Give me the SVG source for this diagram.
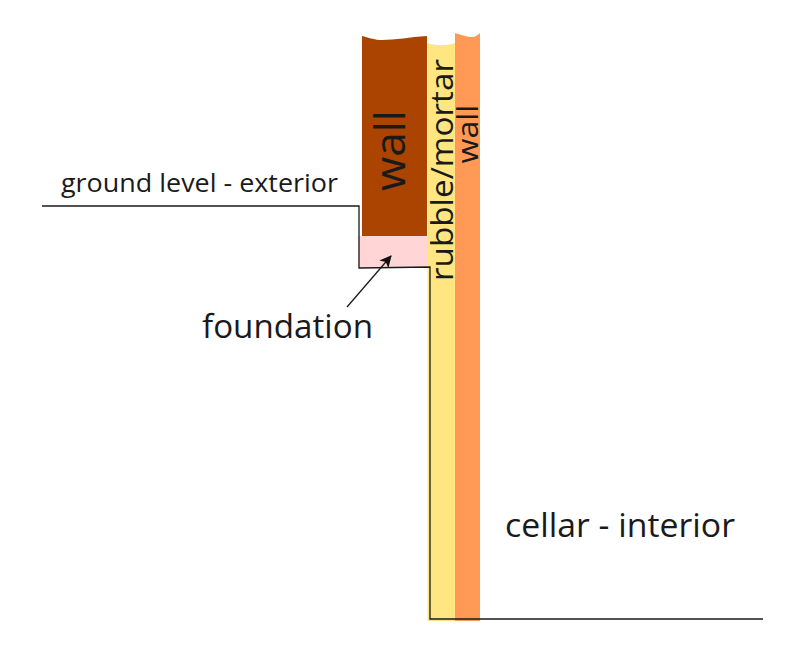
<svg xmlns="http://www.w3.org/2000/svg" width="800" height="666" viewBox="0 0 800 666">
<style>
text{font-family:"Open Sans","Noto Sans",sans-serif;fill:#1a1a1a}
.ln{fill:none;stroke:#1a1a1a;stroke-width:1.3}
</style>
<defs><marker id="ah" markerUnits="userSpaceOnUse" markerWidth="14" markerHeight="14" refX="11" refY="6" orient="auto"><path d="M0 0L12 6L0 12L3 6Z" fill="#111"/></marker></defs>
<rect width="800" height="666" fill="#fff"/>
<g id="foundation-block"><rect x="358" y="236" width="70" height="32" fill="#ffd5d5"/></g>
<g id="rubble"><path d="M427.5 43C436 46 447 46 455 43V621H427.5Z" fill="#ffe680"/></g>
<g id="wall-inner"><path d="M455 33C462 35 467 37 472 37C475 37 478 35 480 33V621H455Z" fill="#ff9955"/></g>
<g id="wall-outer"><path d="M362 36C370 38 375 40 382 40C395 40 410 37 427 36V236H362Z" fill="#aa4400"/></g>
<g id="connectors">
<path class="ln" d="M42 206H359V268L430 267V619H763"/>
<path class="ln" d="M347 307L391 256" marker-end="url(#ah)"/>
</g>
<g id="labels">
<text x="61" y="192" font-size="26" textLength="277" lengthAdjust="spacingAndGlyphs">ground level - exterior</text>
<text x="202" y="338" font-size="32" textLength="171" lengthAdjust="spacingAndGlyphs">foundation</text>
<text x="505" y="537" font-size="32" textLength="230" lengthAdjust="spacingAndGlyphs">cellar - interior</text>
<text transform="translate(405 191) rotate(-90)" font-size="42" textLength="81" lengthAdjust="spacingAndGlyphs">wall</text>
<text transform="translate(452.5 281) rotate(-90)" font-size="31.5" textLength="222" lengthAdjust="spacingAndGlyphs">rubble/mortar</text>
<text transform="translate(478 163.500) rotate(-90)" font-size="30" textLength="59" lengthAdjust="spacingAndGlyphs">wall</text>
</g>
</svg>
